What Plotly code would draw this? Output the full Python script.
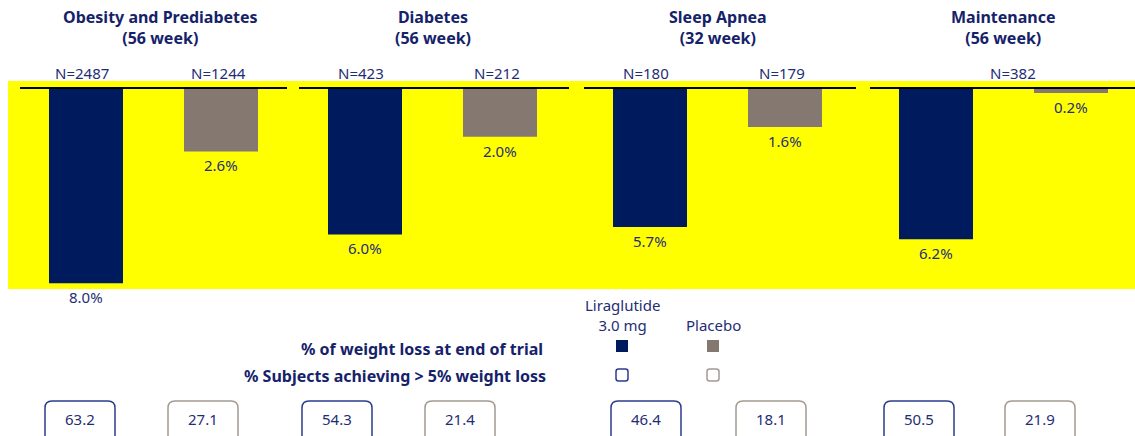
import plotly.graph_objects as go

# Trial results: mean % weight loss and % of subjects reaching >5% loss
trials = ["Obesity and Prediabetes", "Diabetes", "Sleep Apnea", "Maintenance"]
durations = ["56 week", "56 week", "32 week", "56 week"]
n_lira = [2487, 423, 180, None]
n_placebo = [1244, 212, 179, None]
n_pooled = [None, None, None, 382]
loss_lira = [8.0, 6.0, 5.7, 6.2]
loss_placebo = [2.6, 2.0, 1.6, 0.2]
resp_lira = [63.2, 54.3, 46.4, 50.5]
resp_placebo = [27.1, 21.4, 18.1, 21.9]

W, H = 1135, 436
NAVY = "#001A5E"
GRAY = "#847870"
TXT = "#1F2E74"
TXT_B = "#15226A"
BOX_NAVY = "#2B3C8C"
BOX_GRAY = "#A39A91"
FONT = "Noto Sans"

# layout geometry (pixels)
panel_start = [20, 299, 584, 870]
panel_end = [287, 569, 856, 1135]
lira_x = [s + 66 for s in panel_start]
plac_x = [s + 201 for s in panel_start]
lira_box_x = [80, 337, 646, 919]
plac_box_x = [203, 460, 771, 1040]
BASE_PX = 88
PX_PER_PCT = 24.4


def py(p):
    return 1 - p / H


def label(x, p, text, size=15, color=TXT, xanchor="center", xref="x"):
    return dict(x=x, y=py(p), xref=xref, yref="paper", text=text, showarrow=False,
                xanchor=xanchor, yanchor="middle",
                font=dict(family=FONT, size=size, color=color))


fig = go.Figure()
fig.add_trace(go.Bar(x=lira_x, y=[-v for v in loss_lira], width=74,
                     marker=dict(color=NAVY, line=dict(width=0)), name="Liraglutide 3.0 mg",
                     hoverinfo="skip"))
fig.add_trace(go.Bar(x=plac_x, y=[-v for v in loss_placebo], width=74,
                     marker=dict(color=GRAY, line=dict(width=0)), name="Placebo",
                     hoverinfo="skip"))

shapes = []
annotations = []

# yellow panel
shapes.append(dict(type="rect", xref="x", yref="paper", x0=8, x1=W, y0=py(289), y1=py(81),
                   fillcolor="#FFFF00", line=dict(width=0), layer="below"))

for i, name in enumerate(trials):
    shapes.append(dict(type="line", xref="x", yref="y", x0=panel_start[i], x1=panel_end[i],
                       y0=0, y1=0, line=dict(color="black", width=2), layer="above"))
    mid = (lira_x[i] + plac_x[i]) / 2 + (7 if i == 0 else 0)
    annotations.append(label(mid, 27, f"<b>{name}</b><br><b>({durations[i]})</b>",
                             size=16, color=TXT_B))
    if n_lira[i] is not None:
        annotations.append(label(lira_x[i] - 4, 73, f"N={n_lira[i]}"))
        annotations.append(label(plac_x[i] - 3, 73, f"N={n_placebo[i]}"))
    else:
        annotations.append(label((lira_x[i] + plac_x[i]) / 2 + 9, 73, f"N={n_pooled[i]}"))
    for xc, v in ((lira_x[i], loss_lira[i]), (plac_x[i], loss_placebo[i])):
        annotations.append(dict(x=xc, y=-v, xref="x", yref="y", text=f"{v:.1f}%",
                                showarrow=False, yanchor="top", yshift=-2,
                                font=dict(family=FONT, size=15, color=TXT)))


def rounded_path(x0, x1, p0, p1, r):
    # rounded rectangle: x in axis pixels, y given in pixels from top and mapped to paper
    ry = r / H
    y0, y1 = py(p1), py(p0)
    return (f"M {x0 + r},{y1} L {x1 - r},{y1} Q {x1},{y1} {x1},{y1 - ry} "
            f"L {x1},{y0 + ry} Q {x1},{y0} {x1 - r},{y0} L {x0 + r},{y0} "
            f"Q {x0},{y0} {x0},{y0 + ry} L {x0},{y1 - ry} Q {x0},{y1} {x0 + r},{y1} Z")


# responder boxes
for xs, vals, col in ((lira_box_x, resp_lira, BOX_NAVY), (plac_box_x, resp_placebo, BOX_GRAY)):
    for xc, v in zip(xs, vals):
        shapes.append(dict(type="path", xref="x", yref="paper",
                           path=rounded_path(xc - 35, xc + 35, 401, 446, 7),
                           line=dict(color=col, width=1.5), fillcolor="white"))
        annotations.append(label(xc, 419, f"{v:.1f}"))

# key
annotations.append(label(622, 315, "Liraglutide<br>3.0 mg"))
annotations.append(label(713, 325, "Placebo"))
annotations.append(label(545, 349, "<b>% of weight loss at end of trial</b>",
                         size=16, color=TXT_B, xanchor="right"))
annotations.append(label(548, 376, "<b>% Subjects achieving > 5% weight loss</b>",
                         size=16, color=TXT_B, xanchor="right"))
for xc, col in ((622, NAVY), (713, GRAY)):
    shapes.append(dict(type="rect", xref="x", yref="paper", x0=xc - 6, x1=xc + 6,
                       y0=py(352), y1=py(340), fillcolor=col, line=dict(width=0)))
for xc, col in ((622, BOX_NAVY), (713, BOX_GRAY)):
    shapes.append(dict(type="path", xref="x", yref="paper",
                       path=rounded_path(xc - 6, xc + 6, 369, 381, 2.5),
                       line=dict(color=col, width=1.5), fillcolor="white"))

y_top = BASE_PX / PX_PER_PCT
y_bot = -(H - BASE_PX) / PX_PER_PCT

fig.update_layout(
    width=W, height=H, margin=dict(l=0, r=0, t=0, b=0),
    paper_bgcolor="white", plot_bgcolor="rgba(0,0,0,0)",
    showlegend=False, barmode="overlay",
    xaxis=dict(range=[0, W], visible=False, fixedrange=True),
    yaxis=dict(range=[y_bot, y_top], visible=False, fixedrange=True),
    shapes=shapes, annotations=annotations,
    font=dict(family=FONT),
)

fig.write_html("out.html")
